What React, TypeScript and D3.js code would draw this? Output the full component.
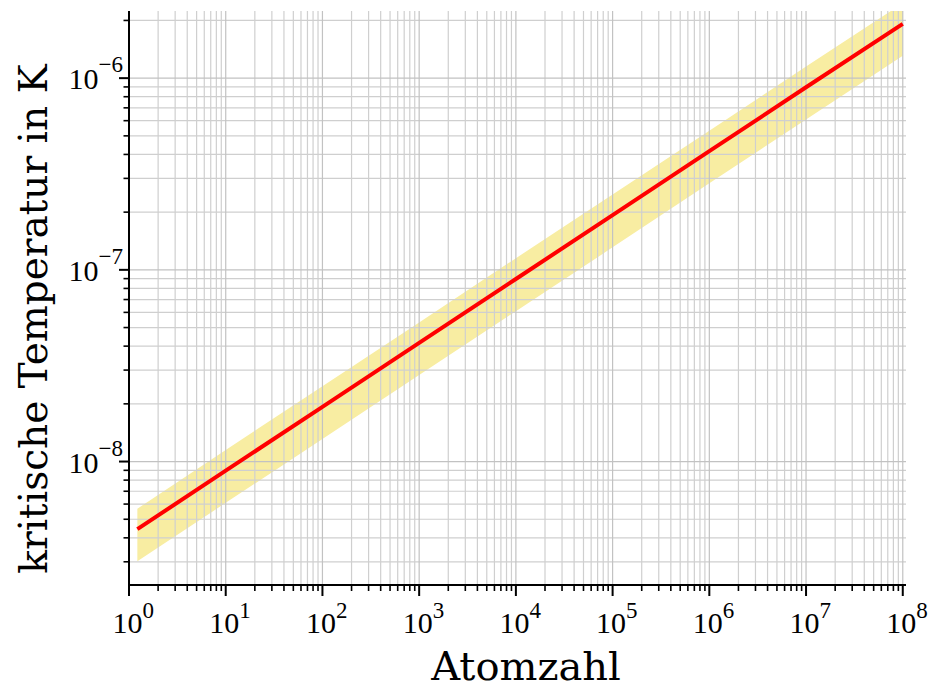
import React from "react";
import * as d3 from "d3";

// Data (log-log)
const atomCounts = [1.22, 10, 100, 1e3, 1e4, 1e5, 1e6, 1e7, 1e8];
const tempCritical = [4.44e-9, 8.96e-9, 1.93e-8, 4.16e-8, 8.96e-8, 1.93e-7, 4.16e-7, 8.96e-7, 1.92e-6];
const tempUpper = [5.68e-9, 1.15e-8, 2.47e-8, 5.32e-8, 1.15e-7, 2.47e-7, 5.32e-7, 1.15e-6, 2.46e-6];
const tempLower = [3.02e-9, 6.09e-9, 1.31e-8, 2.83e-8, 6.09e-8, 1.31e-7, 2.83e-7, 6.09e-7, 1.31e-6];

const xTickExponents = [0, 1, 2, 3, 4, 5, 6, 7, 8];
const yTickExponents = [-8, -7, -6];
const xLabel = "Atomzahl";
const yLabel = "kritische Temperatur in K";

const W = 932;
const H = 690;
const left = 129;
const right = 906;
const top = 11;
const bottom = 585;

export default function App() {
  const x = d3.scaleLog().domain([1, 1.08e8]).range([left, right]);
  const y = d3.scaleLog().domain([2.27e-9, 2.24e-6]).range([bottom, top]);

  const [xd0, xd1] = x.domain();
  const [yd0, yd1] = y.domain();

  const xMajor: number[] = [];
  const xMinor: number[] = [];
  for (let e = -1; e <= 9; e++) {
    for (let m = 1; m <= 9; m++) {
      const v = m * Math.pow(10, e);
      if (v < xd0 * 0.9999 || v > xd1 * 1.0001) continue;
      (m === 1 ? xMajor : xMinor).push(v);
    }
  }
  const yMajor: number[] = [];
  const yMinor: number[] = [];
  for (let e = -10; e <= -4; e++) {
    for (let m = 1; m <= 9; m++) {
      const v = m * Math.pow(10, e);
      if (v < yd0 || v > yd1) continue;
      (m === 1 ? yMajor : yMinor).push(v);
    }
  }

  const pts = atomCounts.map((n, i) => ({ n, t: tempCritical[i], lo: tempLower[i], hi: tempUpper[i] }));
  const area = d3
    .area<any>()
    .x((d) => x(d.n))
    .y0((d) => y(d.lo))
    .y1((d) => y(d.hi));
  const line = d3
    .line<any>()
    .x((d) => x(d.n))
    .y((d) => y(d.t));

  const tickFont = "'Liberation Serif', 'Times New Roman', serif";
  const labelFont = "'DejaVu Serif', serif";

  return (
    <svg width={W} height={H} style={{ position: "absolute", left: 0, top: 0, background: "#fff" }}>
      <defs>
        <clipPath id="plotclip">
          <rect x={left} y={top} width={right - left} height={bottom - top} />
        </clipPath>
      </defs>
      <g clipPath="url(#plotclip)">
        <path d={area(pts) || ""} fill="#f8eda2" stroke="none" />
        {xMinor.map((v) => (
          <line key={"xg" + v} x1={x(v)} x2={x(v)} y1={top} y2={bottom} stroke="#cfcfcf" strokeWidth={1.2} />
        ))}
        {yMinor.map((v) => (
          <line key={"yg" + v} y1={y(v)} y2={y(v)} x1={left} x2={right} stroke="#cfcfcf" strokeWidth={1.2} />
        ))}
        {xMajor.map((v) => (
          <line key={"xG" + v} x1={x(v)} x2={x(v)} y1={top} y2={bottom} stroke="#c2c2c2" strokeWidth={1.2} />
        ))}
        {yMajor.map((v) => (
          <line key={"yG" + v} y1={y(v)} y2={y(v)} x1={left} x2={right} stroke="#c2c2c2" strokeWidth={1.2} />
        ))}
        <path d={line(pts) || ""} fill="none" stroke="#ff0000" strokeWidth={4} />
      </g>

      {/* spines */}
      <line x1={left} x2={left} y1={top} y2={bottom + 1} stroke="#000" strokeWidth={2} />
      <line x1={left - 1} x2={right} y1={bottom} y2={bottom} stroke="#000" strokeWidth={2} />

      {/* x ticks */}
      {xMajor.map((v) => (
        <line key={"xt" + v} x1={x(v)} x2={x(v)} y1={bottom} y2={bottom + 11} stroke="#000" strokeWidth={2} />
      ))}
      {xMinor.map((v) => (
        <line key={"xm" + v} x1={x(v)} x2={x(v)} y1={bottom} y2={bottom + 6} stroke="#000" strokeWidth={1.6} />
      ))}
      {/* y ticks */}
      {yMajor.map((v) => (
        <line key={"yt" + v} x1={left - 10} x2={left} y1={y(v)} y2={y(v)} stroke="#000" strokeWidth={2} />
      ))}
      {yMinor.map((v) => (
        <line key={"ym" + v} x1={left - 5.5} x2={left} y1={y(v)} y2={y(v)} stroke="#000" strokeWidth={1.6} />
      ))}

      {/* x tick labels */}
      {xTickExponents.map((e) => {
        const px = x(Math.pow(10, e));
        return (
          <text key={"xl" + e} x={px - 16.5} y={633} fontFamily={tickFont} fontSize={30} fill="#000">
            10
            <tspan fontSize={23} dy={-15}>
              {String(e)}
            </tspan>
          </text>
        );
      })}

      {/* y tick labels */}
      {yTickExponents.map((e) => {
        const py = y(Math.pow(10, e));
        return (
          <text key={"yl" + e} x={123} y={py + 11} textAnchor="end" fontFamily={tickFont} fontSize={30} fill="#000">
            10
            <tspan fontSize={23} dy={-17}>
              {"\u2212" + String(-e)}
            </tspan>
          </text>
        );
      })}

      {/* axis labels */}
      <text x={526} y={680} textAnchor="middle" fontFamily={labelFont} fontSize={40} fill="#000">
        {xLabel}
      </text>
      <text
        transform={`translate(47, 319) rotate(-90)`}
        textAnchor="middle"
        fontFamily={labelFont}
        fontSize={39}
        fill="#000"
      >
        {yLabel}
      </text>
    </svg>
  );
}
